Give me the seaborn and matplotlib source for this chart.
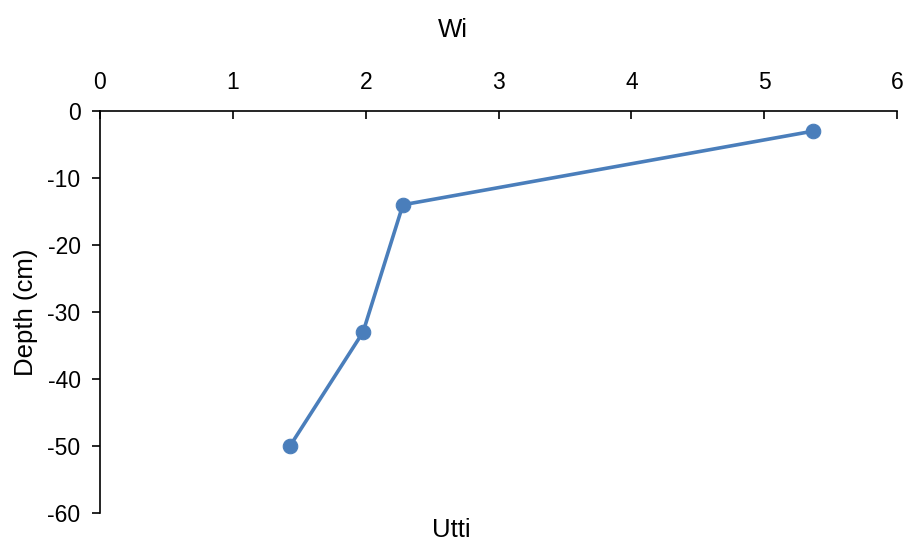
import matplotlib
matplotlib.use("Agg")
import matplotlib.pyplot as plt
import seaborn as sns
import pandas as pd

# values
wi = [5.37, 2.28, 1.98, 1.43]
depth = [-3, -14, -33, -50]
x_ticks = [0, 1, 2, 3, 4, 5, 6]
y_ticks = [0, -10, -20, -30, -40, -50, -60]

df = pd.DataFrame({"Wi": wi, "Depth": depth})

sns.set_style("white")
plt.rcParams['font.family'] = ['Liberation Sans', 'DejaVu Sans']
plt.rcParams['axes.unicode_minus'] = False
plt.rcParams['text.color'] = 'black'
plt.rcParams['axes.labelcolor'] = 'black'

fig = plt.figure(figsize=(9.09, 5.44), dpi=100)
ax = fig.add_axes([0.110, 0.057, 0.877, 0.739])

sns.lineplot(data=df, x="Wi", y="Depth", sort=False, ax=ax,
             color="#4a7ebb", linewidth=2.6, marker="o", markersize=10.5,
             markeredgecolor="#4a7ebb")

ax.set_xlim(0, 6)
ax.set_ylim(-60, 0)
ax.set_xticks(x_ticks)
ax.set_yticks(y_ticks)
ax.xaxis.tick_top()
ax.xaxis.set_label_position("top")
ax.set_xlabel("Wi", fontsize=18.5, labelpad=25, x=0.443)
ax.set_ylabel("Depth (cm)", fontsize=18.5, labelpad=7)

for s in ["right", "bottom"]:
    ax.spines[s].set_visible(False)
for s in ["top", "left"]:
    ax.spines[s].set_color("black")
    ax.spines[s].set_linewidth(1.2)

ax.tick_params(axis="x", direction="in", length=6, width=1.2, labelsize=16.5,
               pad=12, colors="black")
ax.tick_params(axis="y", direction="out", length=6, width=1.2, labelsize=16.5,
               pad=8, colors="black", left=True)

fig.text(0.497, 0.025, "Utti", ha="center", va="center", fontsize=18.5)

fig.savefig("out.png", dpi=100)
